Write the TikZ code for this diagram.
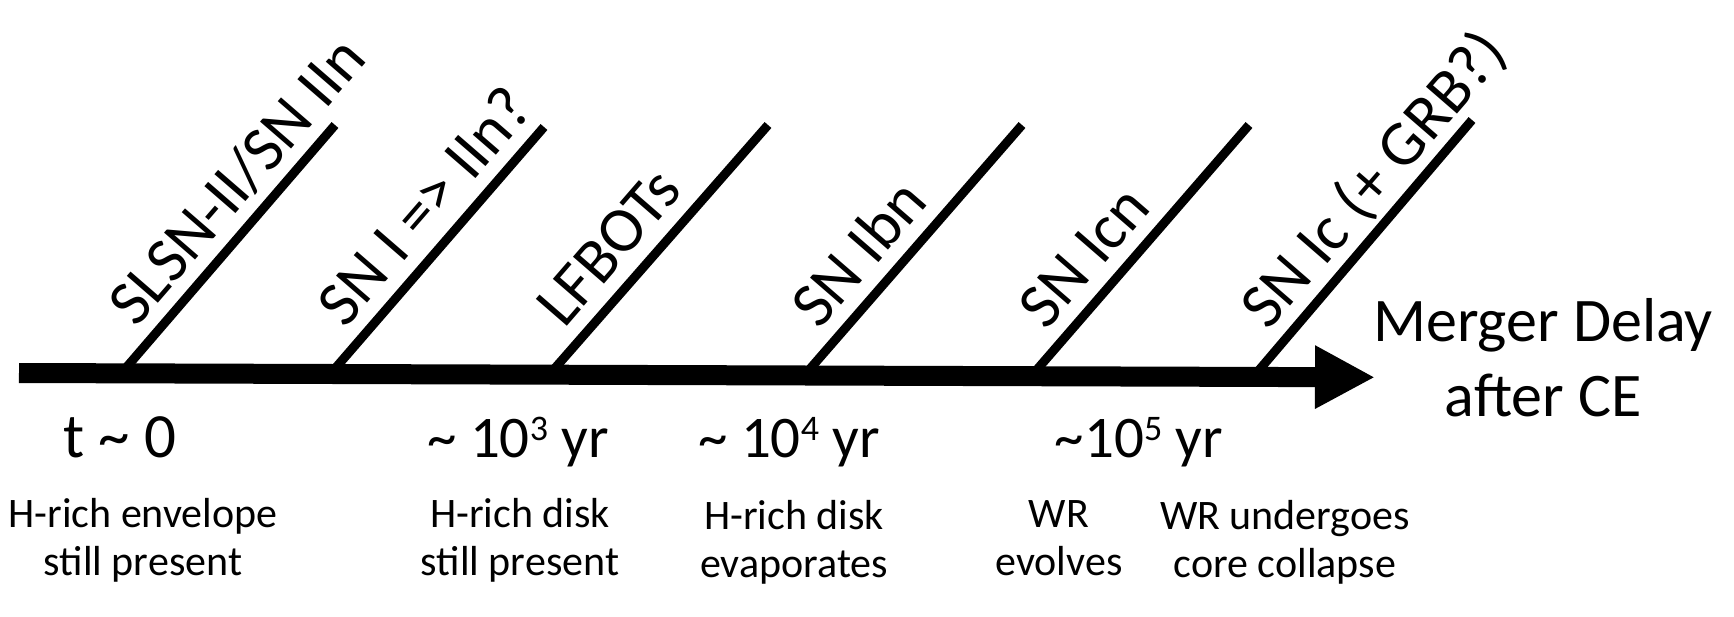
\documentclass[tikz,border=0pt]{standalone}
\usepackage{fontspec}
\setmainfont{Carlito}
\usetikzlibrary{arrows.meta,calc}
\newcommand{\supnum}[1]{\raisebox{17pt}{\fontsize{36}{36}\selectfont #1}}
\begin{document}
\begin{tikzpicture}[x=1pt,y=-1pt,
  spoke/.style={line width=9pt, line cap=butt},
  spokelabel/.style={anchor=base west, rotate=49.1, inner sep=0pt, font=\fontsize{64}{68}\selectfont},
  timelabel/.style={anchor=base, inner sep=0pt, font=\fontsize{59}{62}\selectfont},
  note/.style={anchor=north, inner sep=0pt, align=center, font=\fontsize{42}{48}\selectfont},
  axislabel/.style={anchor=north, inner sep=0pt, align=center, font=\fontsize{62}{75}\selectfont}]
\fill[white] (0,0) rectangle (1734,616);
\useasboundingbox (0,0) rectangle (1734,616);
% time axis
\coordinate (start) at (19,373);
\coordinate (tip) at (1375,377.3);
\draw[line width=20pt, -{Triangle[length=60pt,width=59pt]}] (start) -- (tip);
% spokes
\coordinate (b1) at (121.3,373.3);  \coordinate (t1) at (335,125);
\coordinate (b2) at (330.3,374.0);  \coordinate (t2) at (544,127);
\coordinate (b3) at (549.3,374.6);  \coordinate (t3) at (768,125);
\coordinate (b4) at (804.3,375.4);  \coordinate (t4) at (1022,125);
\coordinate (b5) at (1031.3,376.1); \coordinate (t5) at (1249,125);
\coordinate (b6) at (1253.3,376.8); \coordinate (t6) at (1472,120);
\foreach \i in {1,...,6}{\draw[spoke] (b\i) -- (t\i);}
% spoke labels
\node[spokelabel] (l1) at ($(b1)+(14.8,-44.8)$) {SLSN-II/SN IIn};
\node[spokelabel] (l2) at ($(b2)+(14.8,-44.8)$) {SN I =\kern0pt> IIn?};
\node[spokelabel] (l3) at ($(b3)+(14.8,-44.8)$) {LFBOTs};
\node[spokelabel] (l4) at ($(b4)+(14.8,-44.8)$) {SN Ibn};
\node[spokelabel] (l5) at ($(b5)+(14.8,-44.8)$) {SN Icn};
\node[spokelabel] (l6) at ($(b6)+(14.8,-44.8)$) {SN Ic (+ GRB?)};
% axis label
\node[axislabel] (axis) at (1543,298) {Merger Delay\\after CE};
% time labels
\node[timelabel, font=\fontsize{63}{66}\selectfont] (tzero) at (120,457) {t \textasciitilde{} 0};
\node[timelabel] (tthree) at (518,457) {\textasciitilde{} 10\supnum{3} yr};
\node[timelabel] (tfour) at (789,457) {\textasciitilde{} 10\supnum{4} yr};
\node[timelabel] (tfive) at (1139,457) {\textasciitilde10\supnum{5} yr};
% notes
\node[note] (n1) at (143,498) {H-rich envelope\\still present};
\node[note] (n2) at (520,498) {H-rich disk\\still present};
\node[note] (n3) at (794,500) {H-rich disk\\evaporates};
\node[note] (n4) at (1059,500) {WR\\evolves};
\node[note] (n5) at (1285,500) {WR undergoes\\core collapse};
\end{tikzpicture}
\end{document}
